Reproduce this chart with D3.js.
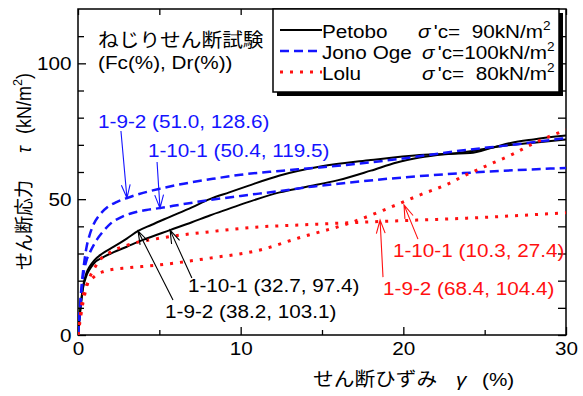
<!DOCTYPE html>
<html>
<head>
<meta charset="utf-8">
<script src="https://cdn.jsdelivr.net/npm/d3@7"></script>
<style>
  body { margin: 0; background: #fff; }
  text { font-family: 'Liberation Sans', Arial, 'Noto Sans CJK JP', sans-serif; white-space: pre; }
</style>
</head>
<body>
<svg id="chart" width="583" height="396"></svg>
<script>
// ---- shear strain γ (%) / shear stress τ (kN/m²) for each torsional shear test ----
const petobo192Gamma = [0,0.15,0.3,0.5,0.75,1.0,1.5,2.2,3.0,3.7,4.5,5.65,7,8.1,9.3,10.5,12.4,14.9,18,21,24.1,25.5,26.6,28,30];
const petobo192Tau   = [0,10,17.5,22.5,25.5,27.5,30,32.5,35.5,38.3,40.5,43.5,47,50,52.5,55,58.7,62,64.4,66.3,67,69,70.7,72,73.4];

const petobo1101Gamma = [0,0.15,0.3,0.5,0.75,1.0,1.5,2.2,3.0,4.0,5.65,7,8.1,9.3,10.5,12.4,14,16,18,19.6,21,23.7,26,28,30];
const petobo1101Tau   = [0,9.5,17,21.5,24.5,26.5,28.5,30.5,32.5,35,38.6,41.5,44,46.5,49,52.5,54.5,57,60.5,63.5,65.3,67.3,69.5,70.8,72];

const jono192Gamma = [0,0.1,0.25,0.4,0.53,0.7,0.94,1.3,1.8,2.4,3.0,4,5,6.5,8.1,10,12.4,14.5,16.5,20,23.7,26.7,30];
const jono192Tau   = [0,9,20,27.5,32.5,36.5,40.5,44,47,49,50.4,52.3,53.8,55.7,57.3,59,60.4,61.5,62.6,65,68,70,72.5];

const jono1101Gamma = [0,0.1,0.3,0.5,0.74,1.15,1.6,2.0,2.7,3.4,4.2,5,6.5,8.1,10,12.4,14.5,16.5,20,23.7,27,30];
const jono1101Tau   = [0,7,21,27,30.5,35,38.5,41,43.5,45,46,46.7,48.2,49.7,51.2,53,54.7,56,58,59.6,60.7,61.5];

const lolu192Gamma = [0,0.1,0.25,0.5,0.74,1.0,1.35,2,3,5,8.1,11.2,13.6,18.6,23.9,30];
const lolu192Tau   = [0,4,10,17,21.5,24.5,27.6,30.5,33,35.6,38,39.8,40.5,41.8,43,45];

const lolu1101Gamma = [0,0.1,0.3,0.5,0.74,1.0,1.5,2.2,3,5,8.1,11.2,13.6,16.7,18.8,20,21,22.7,23.7,25,26.7,28,30];
const lolu1101Tau   = [0,5,14,18,20,21.5,23.2,24.2,24.7,25.8,28.3,31.3,35.8,41.2,46,49,51.5,55.5,58.5,62,66.5,70.5,75.5];

// axis ticks
const xMajorTicks = [0, 10, 20, 30];
const xMinorTicks = [5, 15, 25];
const yMajorTicks = [0, 50, 100];
const yMinorTicks = [10, 20, 30, 40, 60, 70, 80, 90, 110];

// legend entries
const siteNames    = ["Petobo", "Jono Oge", "Lolu"];
const confPressure = ["'c=  90kN/m", "'c=100kN/m", "'c=  80kN/m"];

// specimen labels (Fc(%), Dr(%))
const specimenLabels = ["1-9-2 (51.0, 128.6)", "1-10-1 (50.4, 119.5)",
                        "1-10-1 (32.7, 97.4)", "1-9-2 (38.2, 103.1)",
                        "1-10-1 (10.3, 27.4)", "1-9-2 (68.4, 104.4)"];

// ---- layout ----
const plot = { left: 78, right: 566, top: 9, bottom: 335 };
const SX = 1.09;          // text is set slightly wide
const FS = 19;

const svg = d3.select("#chart");
const x = d3.scaleLinear().domain([0, 30]).range([plot.left, plot.right]);
const y = d3.scaleLinear().domain([0, 120]).range([plot.bottom, plot.top]);

const colors = { petobo: "#000000", jono: "#1414ff", lolu: "#ff1010" };

// text helper: parts = [{t, sup, italic, dx}]
function label(g, px, py, parts, opts = {}) {
  const t = g.append("text")
    .attr("transform", `translate(${px},${py}) ` + (opts.rotate ? `rotate(-90) scale(1,${SX})` : `scale(${SX},1)`))
    .attr("text-anchor", opts.anchor || "start")
    .attr("font-size", opts.size || FS)
    .attr("fill", opts.color || "#000");
  let raised = false;
  parts.forEach(p => {
    const s = t.append("tspan").text(p.t);
    if (p.sup) { s.attr("font-size", 12.5).attr("dy", -8); raised = true; }
    else if (raised) { s.attr("dy", 8); raised = false; }
    if (p.italic) s.attr("font-style", "italic");
    if (p.dx) s.attr("dx", p.dx);
  });
  return t;
}

// clip
svg.append("clipPath").attr("id", "plotClip").append("rect")
  .attr("x", plot.left).attr("y", plot.top)
  .attr("width", plot.right - plot.left).attr("height", plot.bottom - plot.top);

// ---- axes ----
const axG = svg.append("g");
function styleAxis(g) {
  g.select(".domain").remove();
  g.selectAll("line").attr("stroke", "#000").attr("stroke-width", 1.3);
  g.selectAll("text").attr("font-size", FS).attr("fill", "#000")
    .attr("font-family", "'Liberation Sans', Arial, sans-serif")
    .attr("transform", `scale(${SX},1)`);
}
// bottom
axG.append("g").attr("transform", `translate(0,${plot.bottom})`)
  .call(d3.axisBottom(x).tickValues(xMajorTicks).tickSize(-8).tickPadding(7).tickFormat(d3.format("d")))
  .call(styleAxis);
axG.append("g").attr("transform", `translate(0,${plot.bottom})`)
  .call(d3.axisBottom(x).tickValues(xMinorTicks).tickSize(-5).tickFormat(""))
  .call(styleAxis);
// top
axG.append("g").attr("transform", `translate(0,${plot.top})`)
  .call(d3.axisTop(x).tickValues(xMajorTicks.concat(xMinorTicks)).tickSize(-6).tickFormat(""))
  .call(styleAxis);
// left
axG.append("g").attr("transform", `translate(${plot.left},0)`)
  .call(d3.axisLeft(y).tickValues(yMajorTicks).tickSize(-8).tickPadding(6).tickFormat(d3.format("d")))
  .call(styleAxis);
axG.append("g").attr("transform", `translate(${plot.left},0)`)
  .call(d3.axisLeft(y).tickValues(yMinorTicks).tickSize(-6).tickFormat(""))
  .call(styleAxis);
// right
axG.append("g").attr("transform", `translate(${plot.right},0)`)
  .call(d3.axisRight(y).tickValues(yMajorTicks.concat(yMinorTicks)).tickSize(-8).tickFormat(""))
  .call(styleAxis);
// frame
axG.append("rect")
  .attr("x", plot.left).attr("y", plot.top)
  .attr("width", plot.right - plot.left).attr("height", plot.bottom - plot.top)
  .attr("fill", "none").attr("stroke", "#000").attr("stroke-width", 1.5);

// ---- curves ----
const line = d3.line().x(d => x(d[0])).y(d => y(d[1])).curve(d3.curveMonotoneX);
const series = [
  { g: petobo192Gamma,  t: petobo192Tau,  c: colors.petobo, w: 2,   dash: null },
  { g: petobo1101Gamma, t: petobo1101Tau, c: colors.petobo, w: 2,   dash: null },
  { g: jono192Gamma,    t: jono192Tau,    c: colors.jono,   w: 2.5, dash: "9,5" },
  { g: jono1101Gamma,   t: jono1101Tau,   c: colors.jono,   w: 2.5, dash: "9,5" },
  { g: lolu192Gamma,    t: lolu192Tau,    c: colors.lolu,   w: 3,   dash: "3,7" },
  { g: lolu1101Gamma,   t: lolu1101Tau,   c: colors.lolu,   w: 3,   dash: "3,7" }
];
const curveG = svg.append("g").attr("clip-path", "url(#plotClip)");
series.forEach(s => {
  curveG.append("path")
    .datum(s.g.map((v, i) => [v, s.t[i]]))
    .attr("d", line)
    .attr("fill", "none")
    .attr("stroke", s.c)
    .attr("stroke-width", s.w)
    .attr("stroke-dasharray", s.dash);
});

// ---- specimen annotations with open arrowheads ----
// text anchor, arrow tail and arrow tip in data units (γ, τ)
const notes = [
  { text: specimenLabels[0], c: colors.jono,   at: [1.23, 76.2], tail: [2.64, 75.1], tip: [3.01, 50.4] },
  { text: specimenLabels[1], c: colors.jono,   at: [4.30, 65.5], tail: [4.86, 63.7], tip: [5.04, 46.7] },
  { text: specimenLabels[2], c: colors.petobo, at: [6.76, 15.8], tail: [7.00, 21.0], tip: [5.66, 38.6] },
  { text: specimenLabels[3], c: colors.petobo, at: [5.35, 6.3],  tail: [5.84, 12.9], tip: [3.69, 38.3] },
  { text: specimenLabels[4], c: colors.lolu,   at: [19.36, 28.7], tail: [20.9, 35.3], tip: [20.04, 47.9] },
  { text: specimenLabels[5], c: colors.lolu,   at: [18.75, 14.7], tail: [18.75, 21.3], tip: [18.57, 42.3] }
];
const noteG = svg.append("g");
notes.forEach(n => {
  const x1 = x(n.tail[0]), y1 = y(n.tail[1]), x2 = x(n.tip[0]), y2 = y(n.tip[1]);
  const ang = Math.atan2(y2 - y1, x2 - x1);
  const hl = 14, ha = 0.32;
  const p = d3.path();
  p.moveTo(x1, y1); p.lineTo(x2, y2);
  p.moveTo(x2 - hl * Math.cos(ang - ha), y2 - hl * Math.sin(ang - ha));
  p.lineTo(x2, y2);
  p.lineTo(x2 - hl * Math.cos(ang + ha), y2 - hl * Math.sin(ang + ha));
  noteG.append("path").attr("d", p.toString())
    .attr("fill", "none").attr("stroke", n.c).attr("stroke-width", 1.1);
  label(noteG, x(n.at[0]), y(n.at[1]), [{ t: n.text }], { color: n.c });
});

// ---- title ----
label(svg, 98, 47, [{ t: "ねじりせん断試験" }]);
label(svg, 98, 69, [{ t: "(Fc(%), Dr(%))" }]);

// ---- legend ----
const lg = svg.append("g");
lg.append("rect").attr("x", 277).attr("y", 13).attr("width", 286).attr("height", 83).attr("fill", "#000");
lg.append("rect").attr("x", 273).attr("y", 9).attr("width", 286).attr("height", 83)
  .attr("fill", "#fff").attr("stroke", "#000").attr("stroke-width", 1.5);
const legendStyle = [
  { c: colors.petobo, w: 2,   dash: null },
  { c: colors.jono,   w: 2.5, dash: "9,5" },
  { c: colors.lolu,   w: 3,   dash: "3,7" }
];
const sigmaX = [418, 422, 422];
siteNames.forEach((name, i) => {
  const ly = 30 + i * 21;
  lg.append("line").attr("x1", 280).attr("x2", 322).attr("y1", ly).attr("y2", ly)
    .attr("stroke", legendStyle[i].c).attr("stroke-width", legendStyle[i].w)
    .attr("stroke-dasharray", legendStyle[i].dash);
  label(lg, 322, ly + 8, [{ t: name }]);
  label(lg, sigmaX[i], ly + 8, [{ t: "σ", italic: true }, { t: confPressure[i], dx: 3 }, { t: "2", sup: true }]);
});

// ---- axis titles ----
label(svg, 313, 386, [{ t: "せん断ひずみ" }]);
label(svg, 456, 386, [{ t: "γ", italic: true }]);
label(svg, 482, 386, [{ t: "(%)" }]);

label(svg, 31, 270, [{ t: "せん断応力" }], { rotate: true, size: 18 });
label(svg, 31, 153, [{ t: "τ", italic: true }], { rotate: true, size: 18 });
label(svg, 31, 134, [{ t: "(kN/m" }, { t: "2", sup: true }, { t: ")" }], { rotate: true, size: 18 });
</script>
</body>
</html>
